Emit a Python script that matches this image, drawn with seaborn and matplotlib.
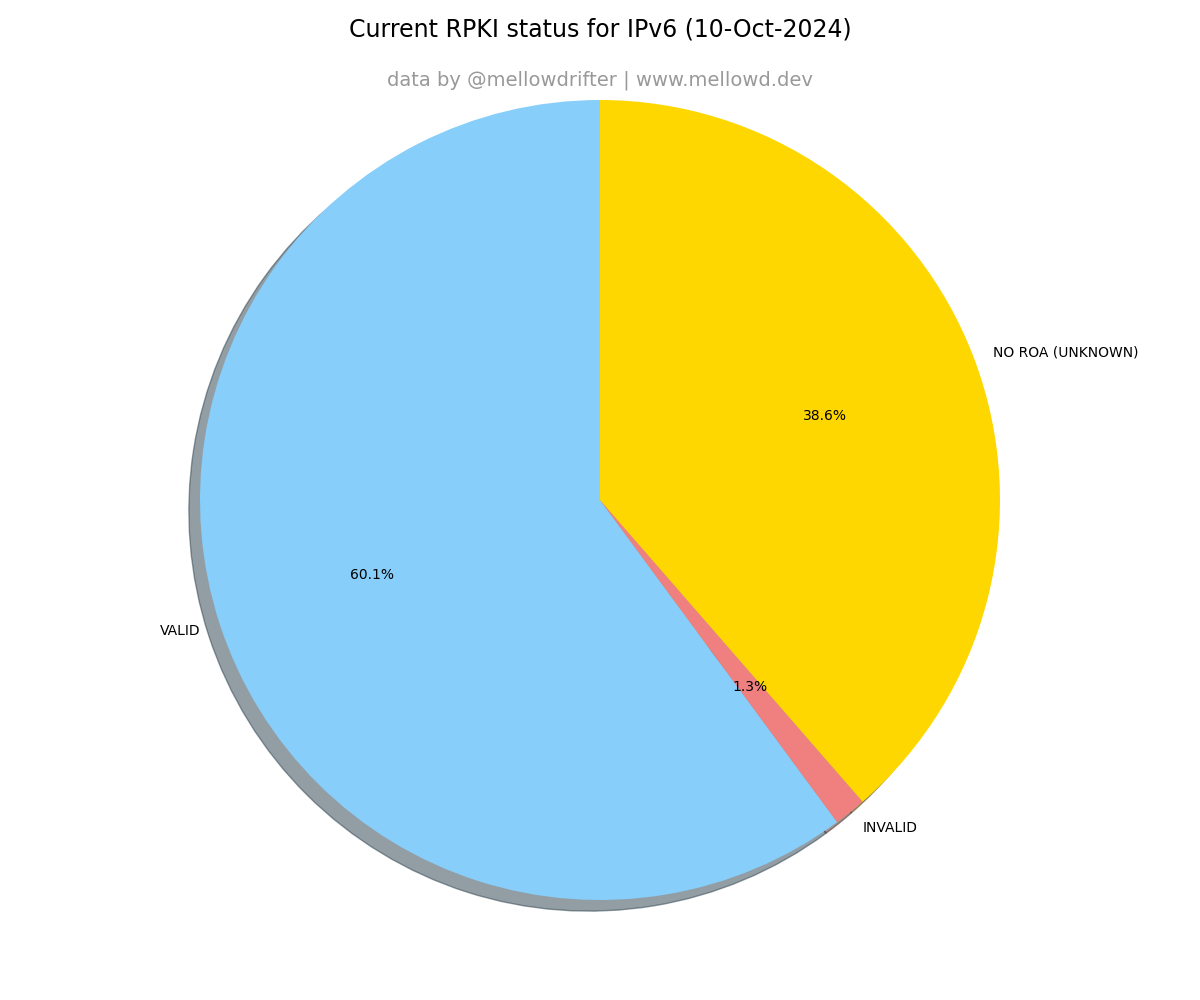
import matplotlib
matplotlib.use("Agg")
import matplotlib.pyplot as plt
import seaborn as sns

labels = ["VALID", "INVALID", "NO ROA (UNKNOWN)"]
shares = [60.1, 1.3, 38.6]
colors = sns.color_palette(["lightskyblue", "lightcoral", "gold"])

fig = plt.figure(figsize=(12, 10), dpi=100)
ax = fig.add_axes([0.0, 0.05, 1.0, 0.9])

ax.pie(shares, labels=labels, colors=colors, autopct="%1.1f%%",
       startangle=90, shadow=True, labeldistance=1.05,
       textprops={"fontsize": 10, "color": "black"})
ax.set_aspect("equal", adjustable="box")
ax.set_xlim(-1.5, 1.5)
ax.set_ylim(-1.125, 1.125)

fig.suptitle("Current RPKI status for IPv6 (10-Oct-2024)", y=0.983,
             fontsize=17, va="top", color="black")
fig.text(0.5, 0.92, "data by @mellowdrifter | www.mellowd.dev",
         ha="center", va="center", fontsize=14, color="#999999")

plt.savefig("out.png", dpi=100)
